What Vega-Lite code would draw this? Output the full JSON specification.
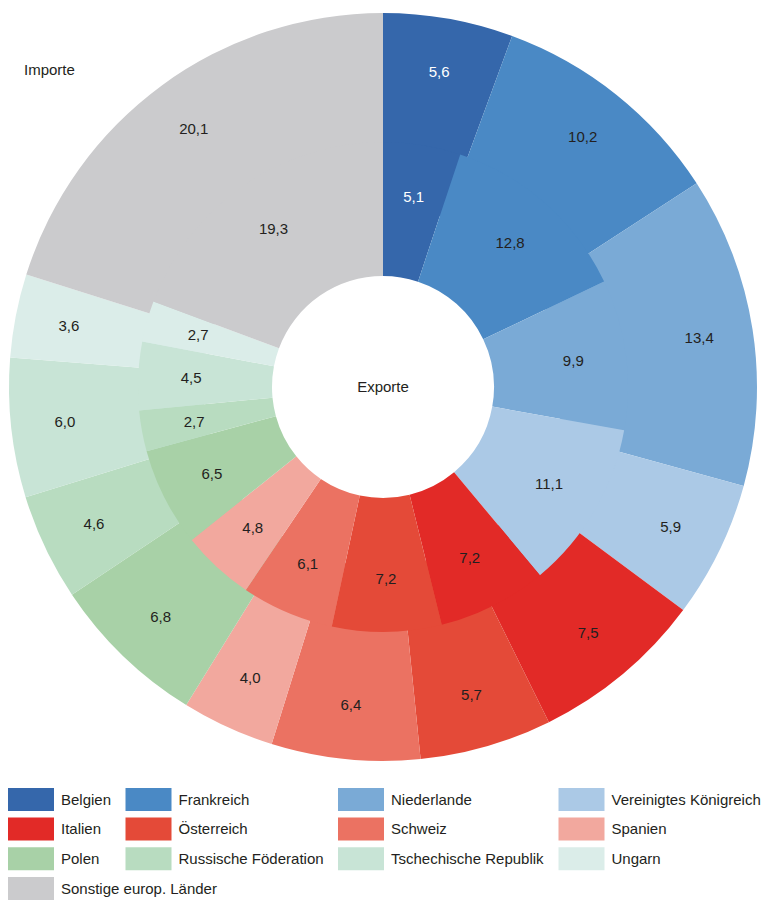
{
  "$schema": "https://vega.github.io/schema/vega-lite/v6.json",
  "width": 762,
  "height": 774,
  "autosize": {"type": "none"},
  "padding": {"left": 2, "top": 0, "right": 0, "bottom": 130},
  "config": {
    "view": {"stroke": null},
    "font": "Liberation Sans",
    "locale": {"number": {"decimal": ",", "thousands": ".", "grouping": [3], "currency": ["", " €"]}}
  },
  "title": {
    "text": "Importe",
    "anchor": "start",
    "frame": "group",
    "offset": 0,
    "dx": 22,
    "dy": 90,
    "baseline": "alphabetic",
    "fontSize": 15,
    "fontWeight": "normal",
    "color": "#231f20",
    "font": "Liberation Sans"
  },
  "data": {
    "values": [
      {"ring": "Exporte", "country": "Belgien", "value": 5.1, "i": 1},
      {"ring": "Exporte", "country": "Frankreich", "value": 12.8, "i": 2},
      {"ring": "Exporte", "country": "Niederlande", "value": 9.9, "i": 3},
      {"ring": "Exporte", "country": "Vereinigtes Königreich", "value": 11.1, "i": 4},
      {"ring": "Exporte", "country": "Italien", "value": 7.2, "i": 5},
      {"ring": "Exporte", "country": "Österreich", "value": 7.2, "i": 6},
      {"ring": "Exporte", "country": "Schweiz", "value": 6.1, "i": 7},
      {"ring": "Exporte", "country": "Spanien", "value": 4.8, "i": 8},
      {"ring": "Exporte", "country": "Polen", "value": 6.5, "i": 9},
      {"ring": "Exporte", "country": "Russische Föderation", "value": 2.7, "i": 10},
      {"ring": "Exporte", "country": "Tschechische Republik", "value": 4.5, "i": 11},
      {"ring": "Exporte", "country": "Ungarn", "value": 2.7, "i": 12},
      {"ring": "Exporte", "country": "Sonstige europ. Länder", "value": 19.3, "i": 13},
      {"ring": "Importe", "country": "Belgien", "value": 5.6, "i": 1},
      {"ring": "Importe", "country": "Frankreich", "value": 10.2, "i": 2},
      {"ring": "Importe", "country": "Niederlande", "value": 13.4, "i": 3},
      {"ring": "Importe", "country": "Vereinigtes Königreich", "value": 5.9, "i": 4},
      {"ring": "Importe", "country": "Italien", "value": 7.5, "i": 5},
      {"ring": "Importe", "country": "Österreich", "value": 5.7, "i": 6},
      {"ring": "Importe", "country": "Schweiz", "value": 6.4, "i": 7},
      {"ring": "Importe", "country": "Spanien", "value": 4.0, "i": 8},
      {"ring": "Importe", "country": "Polen", "value": 6.8, "i": 9},
      {"ring": "Importe", "country": "Russische Föderation", "value": 4.6, "i": 10},
      {"ring": "Importe", "country": "Tschechische Republik", "value": 6.0, "i": 11},
      {"ring": "Importe", "country": "Ungarn", "value": 3.6, "i": 12},
      {"ring": "Importe", "country": "Sonstige europ. Länder", "value": 20.1, "i": 13}
    ]
  },
  "layer": [
    {
      "transform": [{"filter": "datum.ring === 'Importe'"}],
      "mark": {"type": "arc", "radius": 374, "radius2": 180},
      "encoding": {
        "theta": {"field": "value", "type": "quantitative", "stack": true},
        "order": {"field": "i", "type": "quantitative"},
        "color": {
          "field": "country",
          "type": "nominal",
          "scale": {
            "domain": ["Belgien", "Frankreich", "Niederlande", "Vereinigtes Königreich", "Italien", "Österreich", "Schweiz", "Spanien", "Polen", "Russische Föderation", "Tschechische Republik", "Ungarn", "Sonstige europ. Länder"],
            "range": ["#3567ab", "#4a89c5", "#7aaad6", "#abc9e6", "#e22a27", "#e44a38", "#eb7262", "#f2a89e", "#a8d1a7", "#b8dcc0", "#c8e4d6", "#dbede9", "#cbcbcd"]
          },
          "legend": {
            "values": ["Belgien", "Frankreich", "Niederlande", "Vereinigtes Königreich", "Italien", "Österreich", "Schweiz", "Spanien", "Polen", "Russische Föderation", "Tschechische Republik", "Ungarn"],
            "title": null,
            "orient": "none",
            "direction": "horizontal",
            "legendX": 17.5,
            "legendY": 788,
            "columns": 4,
            "gridAlign": "each",
            "columnPadding": 13.5,
            "rowPadding": 6.6,
            "symbolType": "M-2,-1H2V1H-2Z",
            "symbolSize": 529,
            "symbolStrokeWidth": 0,
            "symbolOpacity": 1,
            "labelFontSize": 15,
            "labelFont": "Liberation Sans",
            "labelColor": "#231f20",
            "labelOffset": 18.5,
            "labelLimit": 400
          }
        }
      }
    },
    {
      "transform": [{"filter": "datum.ring === 'Exporte'"}],
      "mark": {"type": "arc", "radius": 245, "radius2": 111},
      "encoding": {
        "theta": {"field": "value", "type": "quantitative", "stack": true},
        "order": {"field": "i", "type": "quantitative"},
        "color": {
          "field": "country",
          "type": "nominal",
          "scale": {
            "domain": ["Belgien", "Frankreich", "Niederlande", "Vereinigtes Königreich", "Italien", "Österreich", "Schweiz", "Spanien", "Polen", "Russische Föderation", "Tschechische Republik", "Ungarn", "Sonstige europ. Länder"],
            "range": ["#3567ab", "#4a89c5", "#7aaad6", "#abc9e6", "#e22a27", "#e44a38", "#eb7262", "#f2a89e", "#a8d1a7", "#b8dcc0", "#c8e4d6", "#dbede9", "#cbcbcd"]
          },
          "legend": {
            "values": ["Sonstige europ. Länder"],
            "title": null,
            "orient": "none",
            "legendX": 17.5,
            "legendY": 877,
            "symbolType": "M-2,-1H2V1H-2Z",
            "symbolSize": 529,
            "symbolStrokeWidth": 0,
            "symbolOpacity": 1,
            "labelFontSize": 15,
            "labelFont": "Liberation Sans",
            "labelColor": "#231f20",
            "labelOffset": 18.5,
            "labelLimit": 400
          }
        }
      }
    },
    {
      "transform": [{"filter": "datum.ring === 'Importe'"}],
      "mark": {"type": "text", "radius": 320, "fontSize": 15, "font": "Liberation Sans", "align": "center", "baseline": "middle"},
      "encoding": {
        "theta": {"field": "value", "type": "quantitative", "stack": true},
        "order": {"field": "i", "type": "quantitative"},
        "detail": {"field": "country", "type": "nominal"},
        "text": {"field": "value", "type": "quantitative", "format": ".1f"},
        "color": {"condition": {"test": "datum.country === 'Belgien'", "value": "#ffffff"}, "value": "#231f20"}
      }
    },
    {
      "transform": [{"filter": "datum.ring === 'Exporte'"}],
      "mark": {"type": "text", "radius": 192, "fontSize": 15, "font": "Liberation Sans", "align": "center", "baseline": "middle"},
      "encoding": {
        "theta": {"field": "value", "type": "quantitative", "stack": true},
        "order": {"field": "i", "type": "quantitative"},
        "detail": {"field": "country", "type": "nominal"},
        "text": {"field": "value", "type": "quantitative", "format": ".1f"},
        "color": {"condition": {"test": "datum.country === 'Belgien'", "value": "#ffffff"}, "value": "#231f20"}
      }
    },
    {
      "data": {"values": [{"label": "Exporte"}]},
      "mark": {"type": "text", "fontSize": 15, "font": "Liberation Sans", "align": "center", "baseline": "middle", "color": "#231f20"},
      "encoding": {
        "text": {"field": "label", "type": "nominal"}
      }
    }
  ],
  "resolve": {"scale": {"theta": "independent"}, "legend": {"color": "independent"}}
}
